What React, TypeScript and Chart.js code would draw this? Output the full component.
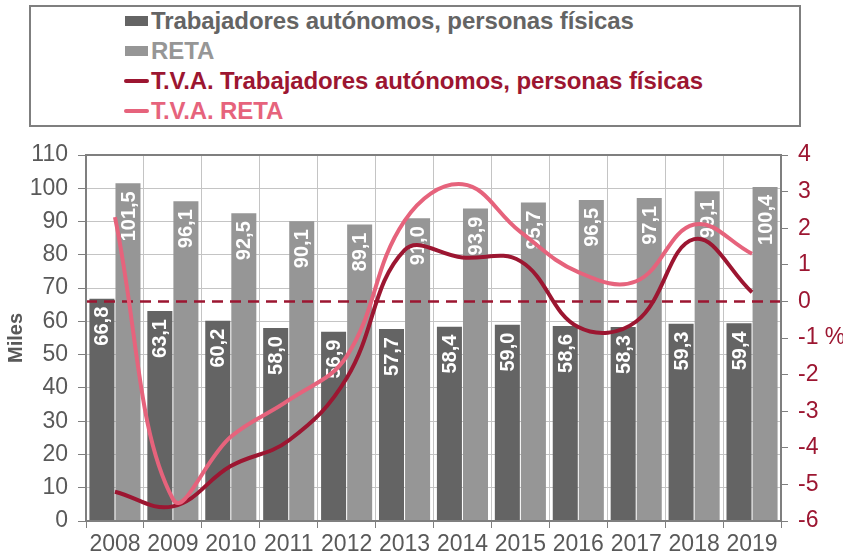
import React, { useEffect, useRef } from "react";
import { Chart, registerables } from "chart.js";

Chart.register(...registerables);

const categories = ["2008", "2009", "2010", "2011", "2012", "2013", "2014", "2015", "2016", "2017", "2018", "2019"];
const trabajadores = [66.8, 63.1, 60.2, 58.0, 56.9, 57.7, 58.4, 59.0, 58.6, 58.3, 59.3, 59.4];
const reta = [101.5, 96.1, 92.5, 90.1, 89.1, 91.0, 93.9, 95.7, 96.5, 97.1, 99.1, 100.4];
const tvaTrabajadores = [-5.2, -5.6, -4.5, -3.8, -2.1, 1.4, 1.2, 1.1, -0.7, -0.55, 1.7, 0.25];
const tvaReta = [2.3, -5.4, -3.7, -2.7, -1.5, 2.2, 3.2, 1.9, 0.8, 0.55, 2.1, 1.3];
const leftTicksMax = 110;
const rightTicksMin = -6;
const rightTicksMax = 4;

const seriesNames = [
  "Trabajadores autónomos, personas físicas",
  "RETA",
  "T.V.A. Trabajadores autónomos, personas físicas",
  "T.V.A. RETA",
];

const DARK_BAR = "#646464";
const LIGHT_BAR = "#969696";
const DARK_RED = "#9c1631";
const PINK = "#e6637c";
const TEXT_GRAY = "#595959";
const AXIS_GRAY = "#7f7f7f";
const GRID_GRAY = "#c4c4c4";
const FONT = '"Liberation Sans", Arial, sans-serif';

const W = 843;
const H = 558;
const AREA = { left: 86, right: 781, top: 155, bottom: 521 };

const fmt = (v: number) => v.toFixed(1).replace(".", ",");

const barLabelsPlugin = {
  id: "barLabels",
  afterDatasetDraw(chart: any, args: any) {
    if (args.index !== 0 && args.index !== 1) return;
    const ctx = chart.ctx;
    const ds = chart.data.datasets[args.index];
    ctx.save();
    ctx.fillStyle = "#ffffff";
    ctx.font = `bold 20px ${FONT}`;
    ctx.textAlign = "right";
    ctx.textBaseline = "middle";
    args.meta.data.forEach((bar: any, i: number) => {
      ctx.save();
      ctx.translate(bar.x + 1, bar.y + 8);
      ctx.rotate(-Math.PI / 2);
      ctx.fillText(fmt(ds.data[i]), 0, 0);
      ctx.restore();
    });
    ctx.restore();
  },
  beforeDatasetDraw(chart: any, args: any) {
    if (args.index !== 2) return;
    const ctx = chart.ctx;
    const { left, right } = chart.chartArea;
    const y = chart.scales.y1.getPixelForValue(0);
    ctx.save();
    ctx.strokeStyle = DARK_RED;
    ctx.lineWidth = 2.5;
    ctx.setLineDash([11, 7]);
    ctx.beginPath();
    ctx.moveTo(left, y);
    ctx.lineTo(right, y);
    ctx.stroke();
    ctx.restore();
  },
  afterDraw(chart: any) {
    const ctx = chart.ctx;
    const { left, right, top, bottom } = chart.chartArea;
    ctx.save();
    ctx.strokeStyle = AXIS_GRAY;
    ctx.lineWidth = 2;
    ctx.strokeRect(left, top, right - left, bottom - top);
    ctx.restore();
  },
};

function Legend() {
  const items = [
    { name: seriesNames[0], color: DARK_BAR, kind: "bar" },
    { name: seriesNames[1], color: LIGHT_BAR, kind: "bar" },
    { name: seriesNames[2], color: DARK_RED, kind: "line" },
    { name: seriesNames[3], color: PINK, kind: "line" },
  ];
  return (
    <div
      style={{
        position: "absolute",
        left: 29,
        top: 5,
        width: 772,
        height: 122,
        boxSizing: "border-box",
        border: `2px solid ${AXIS_GRAY}`,
        background: "#fff",
      }}
    >
      {items.map((it, i) => (
        <div
          key={i}
          style={{
            position: "absolute",
            left: 93,
            top: -1 + i * 30,
            height: 30,
            display: "flex",
            alignItems: "center",
            whiteSpace: "nowrap",
          }}
        >
          {it.kind === "bar" ? (
            <span style={{ display: "inline-block", width: 23, height: 10, background: it.color, marginLeft: 1, marginRight: 3 }} />
          ) : (
            <span style={{ display: "inline-block", width: 25, height: 4, borderRadius: 2, background: it.color, marginRight: 2 }} />
          )}
          <span style={{ font: `bold 24px ${FONT}`, color: it.color, lineHeight: "30px", letterSpacing: "-0.1px" }}>{it.name}</span>
        </div>
      ))}
    </div>
  );
}

export default function App() {
  const ref = useRef<HTMLCanvasElement>(null);
  useEffect(() => {
    if (!ref.current) return;
    const chart = new Chart(ref.current, {
      type: "bar",
      data: {
        labels: categories,
        datasets: [
          {
            type: "bar",
            label: seriesNames[0],
            data: trabajadores,
            backgroundColor: DARK_BAR,
            yAxisID: "y",
            categoryPercentage: 0.9,
            barPercentage: 0.96,
            order: 3,
          },
          {
            type: "bar",
            label: seriesNames[1],
            data: reta,
            backgroundColor: LIGHT_BAR,
            yAxisID: "y",
            categoryPercentage: 0.9,
            barPercentage: 0.96,
            order: 3,
          },
          {
            type: "line",
            label: seriesNames[2],
            data: tvaTrabajadores,
            borderColor: DARK_RED,
            backgroundColor: DARK_RED,
            borderWidth: 4,
            pointRadius: 0,
            tension: 0.4,
            yAxisID: "y1",
            order: 2,
          },
          {
            type: "line",
            label: seriesNames[3],
            data: tvaReta,
            borderColor: PINK,
            backgroundColor: PINK,
            borderWidth: 4,
            pointRadius: 0,
            tension: 0.4,
            yAxisID: "y1",
            order: 1,
          },
        ] as any,
      },
      options: {
        responsive: false,
        animation: false,
        devicePixelRatio: 1,
        layout: { padding: { top: AREA.top, left: 0, right: 0, bottom: 0 } },
        plugins: { legend: { display: false }, tooltip: { enabled: false } },
        scales: {
          x: {
            grid: { color: GRID_GRAY, offset: true, tickLength: 7, tickColor: AXIS_GRAY },
            border: { color: AXIS_GRAY, width: 2 },
            ticks: { color: TEXT_GRAY, font: { family: FONT, size: 23 }, padding: 3, maxRotation: 0 },
            afterFit: (s: any) => {
              s.height = H - AREA.bottom;
            },
          },
          y: {
            position: "left",
            min: 0,
            max: leftTicksMax,
            ticks: { stepSize: 10, color: TEXT_GRAY, font: { family: FONT, size: 23 }, padding: 10 },
            grid: { color: GRID_GRAY, tickLength: 8, tickColor: AXIS_GRAY },
            border: { color: AXIS_GRAY, width: 2 },
            title: {
              display: true,
              text: "Miles",
              color: TEXT_GRAY,
              font: { family: FONT, size: 20, weight: "bold" },
              padding: { top: 4, bottom: 0 },
            },
            afterFit: (s: any) => {
              s.width = AREA.left;
            },
          },
          y1: {
            position: "right",
            min: rightTicksMin,
            max: rightTicksMax,
            ticks: {
              stepSize: 1,
              color: DARK_RED,
              font: { family: FONT, size: 23 },
              padding: 10,
              callback: (v: any) => (Number(v) === -1 ? "-1 %" : String(v)),
            },
            grid: { drawOnChartArea: false, tickLength: 7, tickColor: AXIS_GRAY },
            border: { color: AXIS_GRAY, width: 2 },
            afterFit: (s: any) => {
              s.width = W - AREA.right;
            },
          },
        },
      } as any,
      plugins: [barLabelsPlugin],
    });
    return () => chart.destroy();
  }, []);
  return (
    <div style={{ position: "absolute", left: 0, top: 0, width: W, height: H, background: "#fff" }}>
      <canvas ref={ref} width={W} height={H} style={{ position: "absolute", left: 0, top: 0 }} />
      <Legend />
    </div>
  );
}
